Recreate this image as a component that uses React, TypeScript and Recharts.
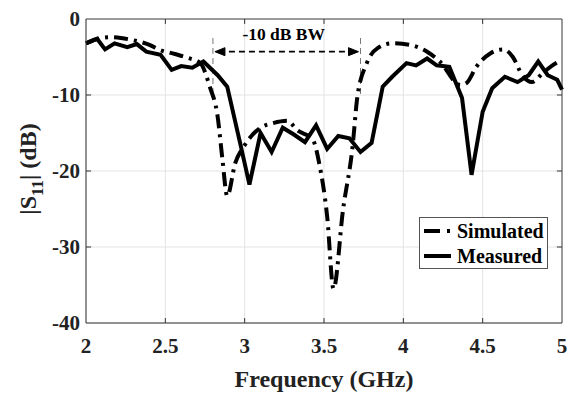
import React from 'react';
import { LineChart, Line, XAxis, YAxis, CartesianGrid, ReferenceLine } from 'recharts';

// Simulated |S11| (dB)
const simFreq = [2.0, 2.06, 2.15, 2.22, 2.3, 2.4, 2.47, 2.56, 2.64, 2.72, 2.78, 2.83, 2.86, 2.89, 2.94, 3.0, 3.1, 3.18, 3.27, 3.33, 3.43, 3.47, 3.52, 3.56, 3.62, 3.68, 3.71, 3.77, 3.84, 3.93, 4.04, 4.15, 4.23, 4.36, 4.4, 4.46, 4.55, 4.63, 4.69, 4.75, 4.81, 4.88, 4.94, 5.0];
const simS11 = [-3.2, -2.7, -2.4, -2.5, -2.8, -3.4, -4.1, -4.6, -5.1, -5.8, -8.9, -12.9, -18.5, -23.3, -19.0, -16.6, -14.3, -13.7, -13.4, -14.6, -15.9, -19.0, -26.0, -35.5, -25.1, -16.8, -10.3, -5.8, -3.8, -3.2, -3.4, -4.3, -5.6, -8.7, -8.4, -6.3, -4.5, -4.0, -5.0, -7.4, -8.3, -7.1, -6.1, -5.4];

// Measured |S11| (dB)
const measFreq = [2.0, 2.07, 2.12, 2.18, 2.26, 2.32, 2.38, 2.47, 2.54, 2.6, 2.67, 2.74, 2.83, 2.89, 2.97, 3.03, 3.1, 3.17, 3.24, 3.31, 3.38, 3.45, 3.52, 3.59, 3.66, 3.73, 3.8, 3.87, 3.93, 4.02, 4.08, 4.15, 4.21, 4.29, 4.37, 4.43, 4.5, 4.56, 4.64, 4.72, 4.79, 4.85, 4.91, 4.97, 5.0];
const measS11 = [-3.2, -2.6, -4.0, -3.2, -3.7, -3.3, -4.3, -4.7, -6.7, -6.2, -6.4, -5.6, -7.4, -8.9, -16.2, -21.8, -15.0, -17.5, -14.3, -15.2, -16.2, -14.0, -17.1, -15.4, -15.7, -17.5, -16.3, -8.9, -7.6, -5.8, -6.1, -5.2, -6.1, -6.3, -10.4, -20.5, -12.2, -9.1, -7.6, -8.3, -7.4, -5.6, -7.4, -8.0, -9.3];

const xTicks = [2, 2.5, 3, 3.5, 4, 4.5, 5];
const yTicks = [-40, -30, -20, -10, 0];
const bwEdges = [2.8, 3.73];

const simData = simFreq.map((f, i) => ({ f, s: simS11[i] }));
const measData = measFreq.map((f, i) => ({ f, s: measS11[i] }));

const font = '"Liberation Serif", "Times New Roman", serif';
const simDash = '14 6 3 6';

const series = [
  { name: 'Simulated', dash: '16 7 3 20' },
  { name: 'Measured', dash: undefined },
];

// dashed double arrow with the bandwidth text above it
const BwArrow = (p: any) => {
  const { x1, y1, x2 } = p;
  return (
    <g>
      <line x1={x1 + 6} y1={y1} x2={x2 - 6} y2={y1} stroke="#000" strokeWidth={1.8} strokeDasharray="6 4" />
      <path d={`M${x1 + 12},${y1 - 4} L${x1 + 2},${y1} L${x1 + 12},${y1 + 4} Z`} fill="#000" stroke="#000" strokeWidth={1} />
      <path d={`M${x2 - 12},${y1 - 4} L${x2 - 2},${y1} L${x2 - 12},${y1 + 4} Z`} fill="#000" stroke="#000" strokeWidth={1} />
      <text x={(x1 + x2) / 2 - 3} y={y1 - 12} textAnchor="middle" fontFamily={font} fontWeight="bold" fontSize={17.5} fill="#000">
        -10 dB BW
      </text>
    </g>
  );
};

const XTick = (p: any) => (
  <text x={p.x} y={p.y + 24} textAnchor="middle" fontFamily={font} fontWeight="bold" fontSize={21} fill="#222">
    {p.payload.value}
  </text>
);

const YTick = (p: any) => (
  <text x={p.x} y={p.y + 7} textAnchor="end" fontFamily={font} fontWeight="bold" fontSize={21} fill="#222">
    {p.payload.value}
  </text>
);

export default function App() {
  return (
    <div style={{ position: 'absolute', left: 0, top: 0, width: 568, height: 393, background: '#fff', fontFamily: font }}>
      <LineChart width={568} height={393} margin={{ top: 19, right: 6, bottom: 0, left: 0 }}>
        <CartesianGrid stroke="#e3e3e3" strokeWidth={1} />
        <XAxis
          dataKey="f"
          type="number"
          domain={[2, 5]}
          ticks={xTicks}
          height={70}
          axisLine={{ stroke: '#333' }}
          tickLine={false}
          tick={XTick}
          tickMargin={0}
          label={(props: any) => {
            const vb = props.viewBox || { x: 86, y: 323, width: 476, height: 70 };
            return (
              <text x={vb.x + vb.width / 2} y={vb.y + 64} textAnchor="middle" fontFamily={font} fontWeight="bold" fontSize={24} fill="#222">
                Frequency (GHz)
              </text>
            );
          }}
        />
        <YAxis
          type="number"
          domain={[-40, 0]}
          ticks={yTicks}
          width={86}
          axisLine={{ stroke: '#333' }}
          tickLine={false}
          tick={YTick}
          tickMargin={0}
          label={(props: any) => {
            const vb = props.viewBox || { x: 0, y: 19, width: 86, height: 304 };
            const cx = 36;
            const cy = vb.y + vb.height / 2 - 2;
            return (
              <text
                x={cx}
                y={cy}
                transform={`rotate(-90, ${cx}, ${cy})`}
                textAnchor="middle"
                fontFamily={font}
                fontWeight="bold"
                fontSize={24}
                fill="#222"
              >
                |S<tspan fontSize={17} dy={7}>11</tspan>
                <tspan dy={-7}>| (dB)</tspan>
              </text>
            );
          }}
        />
        {/* box border */}
        <ReferenceLine y={0} stroke="#444" strokeWidth={1} />
        <ReferenceLine x={5} stroke="#444" strokeWidth={1} />
        {/* inward ticks */}
        {xTicks.slice(1, -1).map((t) => (
          <ReferenceLine key={'xb' + t} segment={[{ x: t, y: -40 }, { x: t, y: -39.35 }]} stroke="#333" />
        ))}
        {xTicks.slice(1, -1).map((t) => (
          <ReferenceLine key={'xt' + t} segment={[{ x: t, y: 0 }, { x: t, y: -0.65 }]} stroke="#333" />
        ))}
        {yTicks.slice(1, -1).map((t) => (
          <ReferenceLine key={'yl' + t} segment={[{ x: 2, y: t }, { x: 2.032, y: t }]} stroke="#333" />
        ))}
        {yTicks.slice(1, -1).map((t) => (
          <ReferenceLine key={'yr' + t} segment={[{ x: 4.968, y: t }, { x: 5, y: t }]} stroke="#333" />
        ))}
        {/* -10 dB bandwidth markers */}
        {bwEdges.map((e) => (
          <ReferenceLine key={'bw' + e} segment={[{ x: e, y: -2.5 }, { x: e, y: -10 }]} stroke="#777" strokeDasharray="6 4" />
        ))}
        <ReferenceLine segment={[{ x: bwEdges[0], y: -4.3 }, { x: bwEdges[1], y: -4.3 }]} shape={BwArrow} />
        <Line
          data={simData}
          dataKey="s"
          name="Simulated"
          type="monotone"
          stroke="#000"
          strokeWidth={4}
          strokeDasharray={simDash}
          dot={false}
          isAnimationActive={false}
        />
        <Line
          data={measData}
          dataKey="s"
          name="Measured"
          type="linear"
          stroke="#000"
          strokeWidth={4}
          dot={false}
          isAnimationActive={false}
        />
      </LineChart>
      {/* legend in the lower right */}
      <div
        style={{
          position: 'absolute',
          left: 419,
          top: 217,
          width: 127,
          height: 50,
          boxSizing: 'content-box',
          border: '1px solid #555',
          background: '#fff',
          fontFamily: font,
          fontWeight: 'bold',
          fontSize: 20,
          lineHeight: '24px',
          color: '#000',
        }}
      >
        {series.map((it) => (
          <div key={it.name} style={{ display: 'flex', alignItems: 'center', height: 25 }}>
            <svg width={34} height={10} style={{ marginLeft: 3, flex: 'none' }}>
              <line x1={1} y1={5} x2={28} y2={5} stroke="#000" strokeWidth={4} strokeDasharray={it.dash} />
            </svg>
            <span>{it.name}</span>
          </div>
        ))}
      </div>
    </div>
  );
}
